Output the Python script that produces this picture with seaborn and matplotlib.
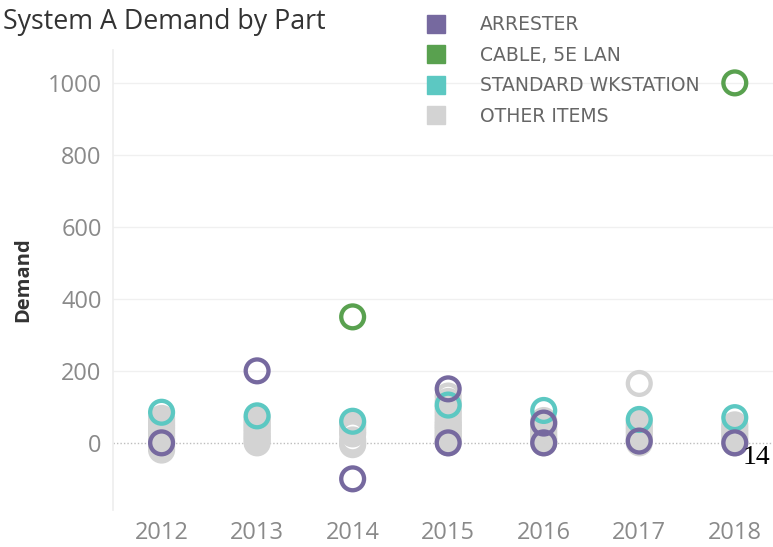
import matplotlib
matplotlib.use("Agg")
import matplotlib.pyplot as plt
import seaborn as sns
import pandas as pd
from matplotlib.lines import Line2D

# values
years = ['2012', '2013', '2014', '2015', '2016', '2017', '2018']
other_items = {
    '2012': [-20, -10, 0, 8, 15, 22, 30, 38, 45, 52, 60, 68],
    '2013': [0, 8, 15, 22, 30, 38, 45, 52, 60, 68],
    '2014': [-5, 0, 8, 25, 32, 40, 48, 55],
    '2015': [0, 8, 15, 22, 30, 38, 45, 52, 60, 70, 80, 90, 100, 115, 130],
    '2016': [0, 8, 15, 25, 35, 45, 55, 62],
    '2017': [0, 8, 15, 25, 35, 45, 55, 165],
    '2018': [0, 10, 20, 30, 40, 50],
}
standard_wkstation = {'2012': [85], '2013': [75], '2014': [60], '2015': [105],
                      '2016': [90], '2017': [65], '2018': [70]}
cable_5e_lan = {'2014': [350], '2018': [1000]}
arrester = {'2012': [0], '2013': [200], '2014': [-100], '2015': [0, 150],
            '2016': [0, 55], '2017': [5], '2018': [0]}

parts = ['ARRESTER', 'CABLE, 5E LAN', 'STANDARD WKSTATION', 'OTHER ITEMS']
colors = {'ARRESTER': '#76699f', 'CABLE, 5E LAN': '#59a14f',
          'STANDARD WKSTATION': '#5cc8c2', 'OTHER ITEMS': '#d3d3d3'}

# draw order: others at the back, arrester on top
rows = []
for name, d in [('OTHER ITEMS', other_items), ('STANDARD WKSTATION', standard_wkstation),
                ('CABLE, 5E LAN', cable_5e_lan), ('ARRESTER', arrester)]:
    for yr, vals in d.items():
        for v in vals:
            rows.append({'Year': yr, 'Demand': v, 'Part': name})
df = pd.DataFrame(rows)

sns.set_theme(style="white")
plt.rcParams['font.family'] = ['Open Sans', 'DejaVu Sans']

fig, ax = plt.subplots(figsize=(7.73, 5.47), dpi=100)
fig.subplots_adjust(left=0.146, right=1.0, top=0.909, bottom=0.068)

sns.scatterplot(data=df, x='Year', y='Demand', hue='Part', palette=colors,
                s=270, linewidth=3.1, legend=False, ax=ax)
pts = ax.collections[0]
pts.set_edgecolors(pts.get_facecolors())
pts.set_facecolors('none')

ax.set_xticks(range(len(years)))
ax.set_xticklabels(years)
ax.set_xlim(-0.51, 6.4)
ax.set_ylim(-186, 1092)
ax.set_yticks([0, 200, 400, 600, 800, 1000])
for y in [200, 400, 600, 800, 1000]:
    ax.axhline(y, color='#f0f0f0', lw=1, zorder=0)
ax.axhline(0, color='#bdbdbd', lw=1, ls=(0, (1, 1.5)), zorder=0)

sns.despine(ax=ax, top=True, right=True, bottom=True)
ax.spines['left'].set_color('#eeeeee')
ax.tick_params(axis='both', length=0, labelsize=17, colors='#8a8a8a', pad=8)
ax.set_xlabel('')
ax.set_ylabel('Demand', fontsize=14.5, fontweight='bold', color='#333333', labelpad=10)

fig.text(0.004, 0.96, 'System A Demand by Part', fontsize=19.3, color='#333333',
         ha='left', va='center')

handles = [Line2D([0], [0], linestyle='none', marker='s', markersize=13,
                  markerfacecolor=colors[p], markeredgecolor=colors[p]) for p in parts]
fig.legend(handles, parts, loc='upper left', bbox_to_anchor=(0.552, 0.972),
           frameon=False, prop={'family': 'DejaVu Sans', 'size': 13.5},
           labelcolor='#666666', handletextpad=1.85, borderpad=0, borderaxespad=0,
           labelspacing=0.61, handlelength=1.0)

fig.text(0.978, 0.163, '14', fontsize=20, color='black', ha='center', va='center',
         family=['Liberation Serif', 'DejaVu Serif'])

fig.savefig('out.png', dpi=100)
